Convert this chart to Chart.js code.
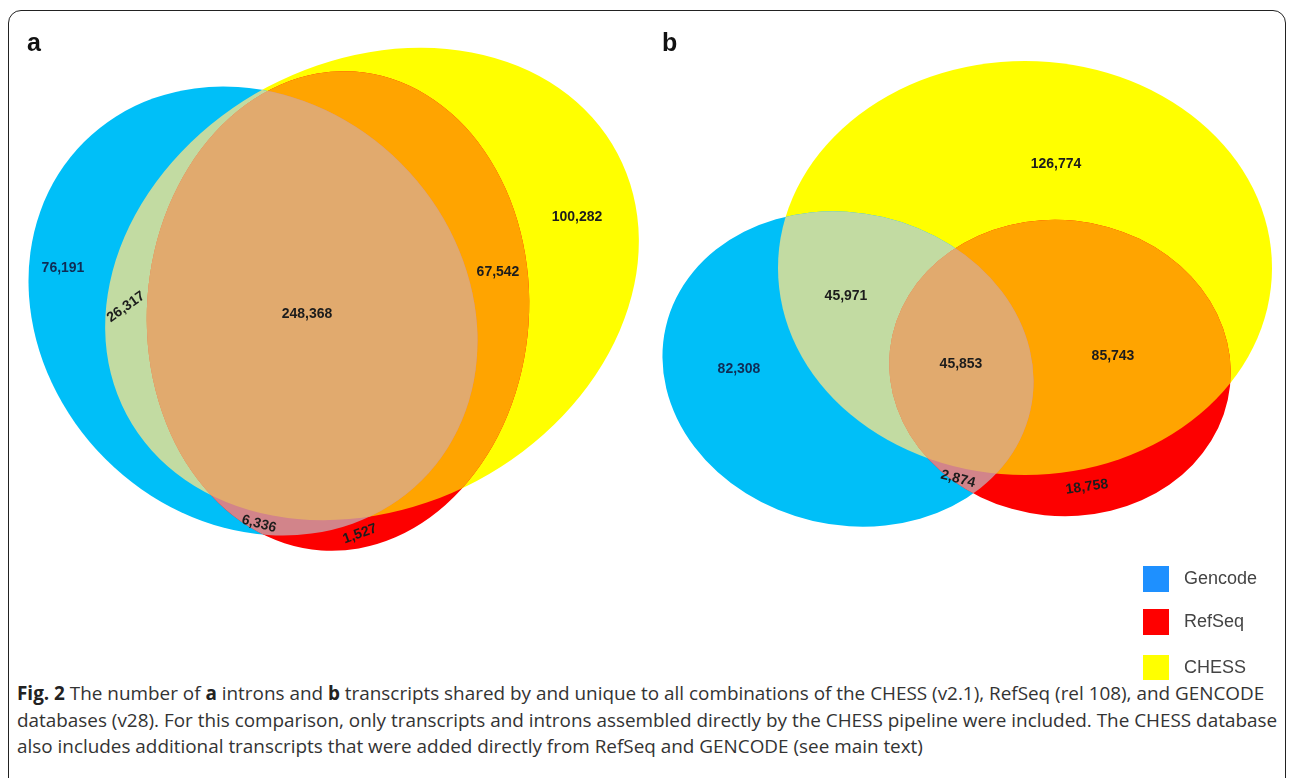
<!DOCTYPE html>
<html>
<head>
<meta charset="utf-8">
<script src="https://cdn.jsdelivr.net/npm/chart.js@4.4.0/dist/chart.umd.min.js"></script>
<style>
  body { margin: 0; width: 1292px; height: 778px; overflow: hidden; background: #fff; position: relative; }
  #frame { position: absolute; left: 8px; top: 10px; width: 1276px; height: 820px; border: 1.5px solid #222; border-radius: 13px; }
  #wrap { position: absolute; left: 0; top: 0; width: 1292px; height: 680px; }
  #caption { position: absolute; left: 17px; top: 680px; white-space: nowrap; font-family: "Open Sans", sans-serif; font-size: 18.9px; line-height: 26.5px; color: #333; }
  #caption b { color: #222; }
</style>
</head>
<body>
<div id="frame"></div>
<div id="wrap"><canvas id="venn" width="1292" height="680"></canvas></div>
<div id="caption">
  <b>Fig. 2</b> The number of <b>a</b> introns and <b>b</b> transcripts shared by and unique to all combinations of the CHESS (v2.1), RefSeq (rel 108), and GENCODE<br>
  databases (v28). For this comparison, only transcripts and introns assembled directly by the CHESS pipeline were included. The CHESS database<br>
  also includes additional transcripts that were added directly from RefSeq and GENCODE (see main text)
</div>
<script>
// sets and region counts
const setNames = ["Gencode", "RefSeq", "CHESS"];
const setColors = ["#1e90ff", "#ff0000", "#ffff00"];
// regions: G only, G+C, G+R+C, R+C, C only, G+R, R only
const regionKeys = ["G", "GC", "GRC", "RC", "C", "GR", "R"];
const intronCounts = [76191, 26317, 248368, 67542, 100282, 6336, 1527];
const transcriptCounts = [82308, 45971, 45853, 85743, 126774, 2874, 18758];

// ellipse layout (pixels on the hidden axes): cx, cy, rx, ry, rotation in degrees
const ellipsesA = {
  G: [253, 311, 239, 209, 45],
  R: [338, 311, 191, 240, 4],
  C: [372, 284, 278, 223, -28]
};
const ellipsesB = {
  G: [848, 369, 187, 156, 13],
  R: [1060, 368, 171, 148, 6],
  C: [1025, 268, 247, 207, 0]
};
// label positions per region: x, y, angle
const labelPosA = [[63, 268, 0], [126, 307, -35], [307, 314, 0], [498, 272, 0], [577, 217, 0], [259, 524, 15], [360, 534, -20]];
const labelPosB = [[739, 369, 0], [846, 296, 0], [961, 364, 0], [1113, 356, 0], [1056, 164, 0], [958, 479, 15], [1087, 487, -8]];

const fill = {
  G: "#00bff8", R: "#fd0000", C: "#ffff00",
  GC: "#c2dba2", RC: "#ffa400", GR: "#d2848a", GRC: "#e1aa6e"
};

const vennPlugin = {
  id: "venn",
  afterDraw(chart) {
    const ctx = chart.ctx;
    const x = chart.scales.x, y = chart.scales.y;

    function path(e) {
      const px = x.getPixelForValue(e[0]), py = y.getPixelForValue(e[1]);
      const rx = x.getPixelForValue(e[0] + e[2]) - px;
      const ry = y.getPixelForValue(e[1] + e[3]) - py;
      ctx.beginPath();
      ctx.ellipse(px, py, Math.abs(rx), Math.abs(ry), e[4] * Math.PI / 180, 0, Math.PI * 2);
    }
    function paint(e, color, clips) {
      ctx.save();
      clips.forEach(c => { path(c); ctx.clip(); });
      path(e);
      ctx.fillStyle = color;
      ctx.fill();
      ctx.restore();
    }
    function panel(el, counts, pos) {
      paint(el.C, fill.C, []);
      paint(el.G, fill.G, []);
      paint(el.R, fill.R, []);
      paint(el.C, fill.GC, [el.G]);
      paint(el.C, fill.RC, [el.R]);
      paint(el.R, fill.GR, [el.G]);
      paint(el.C, fill.GRC, [el.G, el.R]);

      ctx.font = "bold 14px 'Liberation Sans', Arial, sans-serif";
      ctx.textAlign = "center";
      ctx.textBaseline = "middle";
      counts.forEach((v, i) => {
        const p = pos[i];
        ctx.save();
        ctx.translate(x.getPixelForValue(p[0]), y.getPixelForValue(p[1]));
        ctx.rotate(p[2] * Math.PI / 180);
        ctx.fillStyle = regionKeys[i] === "G" ? "#0f2c55" : "#1c1c1c";
        ctx.fillText(v.toLocaleString("en-US"), 0, 0);
        ctx.restore();
      });
    }

    panel(ellipsesA, intronCounts, labelPosA);
    panel(ellipsesB, transcriptCounts, labelPosB);

    // panel letters
    ctx.fillStyle = "#111";
    ctx.font = "bold 25px 'Liberation Sans', Arial, sans-serif";
    ctx.textAlign = "left";
    ctx.textBaseline = "alphabetic";
    ctx.fillText("a", x.getPixelForValue(27), y.getPixelForValue(51));
    ctx.fillText("b", x.getPixelForValue(662), y.getPixelForValue(51));

    // legend
    ctx.font = "18px 'Liberation Sans', Arial, sans-serif";
    ctx.textBaseline = "middle";
    setNames.forEach((name, i) => {
      const top = [566, 609, 655][i];
      ctx.fillStyle = setColors[i];
      ctx.fillRect(x.getPixelForValue(1143), y.getPixelForValue(top), 26, 26);
      ctx.fillStyle = "#444";
      ctx.fillText(name, x.getPixelForValue(1184), y.getPixelForValue(top + 13));
    });
  }
};

new Chart("venn", {
  type: "scatter",
  data: { datasets: [{ data: [] }] },
  options: {
    responsive: false,
    animation: false,
    devicePixelRatio: 1,
    layout: { padding: 0 },
    plugins: { legend: { display: false }, tooltip: { enabled: false } },
    scales: {
      x: { type: "linear", min: 0, max: 1292, display: false },
      y: { type: "linear", min: 0, max: 680, reverse: true, display: false }
    }
  },
  plugins: [vennPlugin]
});
</script>
</body>
</html>
